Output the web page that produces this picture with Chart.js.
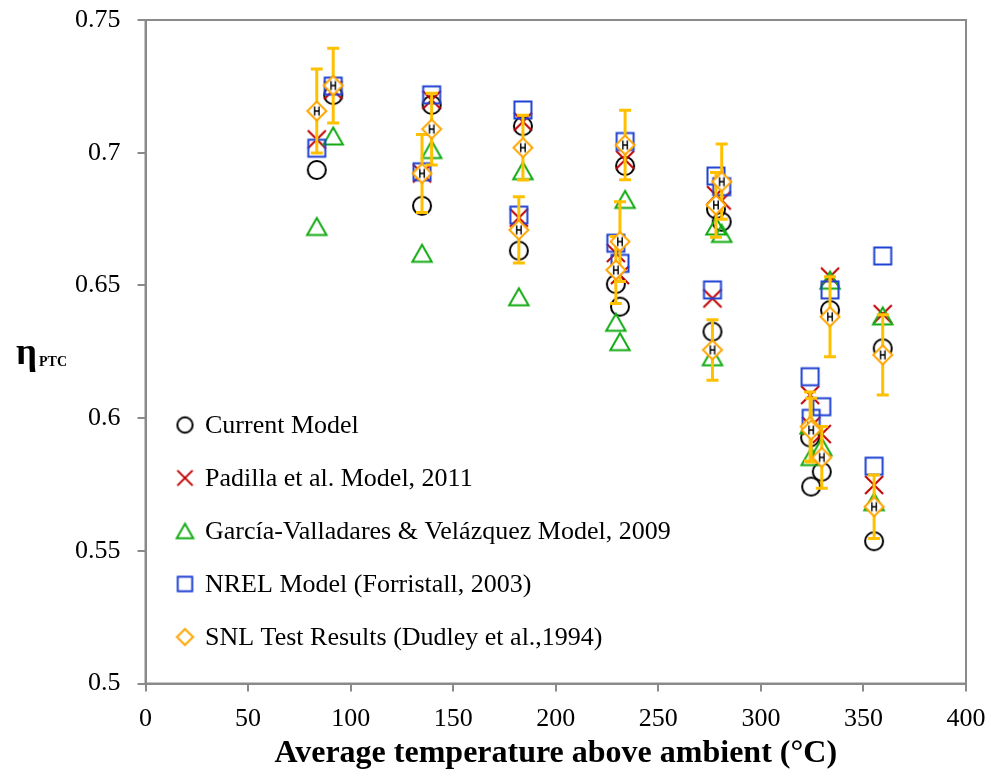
<!DOCTYPE html>
<html>
<head>
<meta charset="utf-8">
<script src="https://cdn.jsdelivr.net/npm/chart.js@4.4.0/dist/chart.umd.min.js"></script>
<style>
  html, body { margin: 0; padding: 0; background: #ffffff; }
  #wrap { width: 991px; height: 778px; position: relative; }
</style>
</head>
<body>
<div id="wrap"><canvas id="chart"></canvas></div>
<script>
// Average temperature above ambient (°C) of each test point
const tempAboveAmbient = [83.5, 91.5, 134.8, 139.5, 182, 184, 229.3, 231.3, 233.8, 276.4, 278.1, 280.9, 324, 324.5, 329.7, 333.7, 355.2, 359.4];

// Collector efficiency for each model
const currentModel  = [0.6935, 0.7217, 0.6800, 0.7180, 0.6631, 0.7100, 0.6505, 0.6420, 0.6950, 0.6326, 0.6787, 0.6740, 0.5927, 0.5742, 0.5798, 0.6407, 0.5536, 0.6263];
const padillaModel  = [0.7050, 0.7236, 0.6922, 0.7199, 0.6755, 0.7117, 0.6622, 0.6539, 0.6973, 0.6451, 0.6840, 0.6820, 0.6087, 0.5970, 0.5940, 0.6533, 0.5748, 0.6392];
const garciaModel   = [0.6722, 0.7063, 0.6621, 0.7012, 0.6457, 0.6932, 0.6361, 0.6288, 0.6824, 0.6231, 0.6724, 0.6696, 0.5974, 0.5855, 0.5892, 0.6520, 0.5685, 0.6385];
const nrelModel     = [0.7017, 0.7251, 0.6928, 0.7218, 0.6765, 0.7161, 0.6659, 0.6583, 0.7042, 0.6483, 0.6912, 0.6872, 0.6156, 0.5999, 0.6043, 0.6483, 0.5819, 0.6611];
const snlTest       = [0.7157, 0.7253, 0.6922, 0.7089, 0.6709, 0.7019, 0.6558, 0.6665, 0.7029, 0.6257, 0.6803, 0.6891, 0.5968, 0.5955, 0.5852, 0.6382, 0.5666, 0.6238];
const snlTestError  = [0.0158, 0.0141, 0.0147, 0.0135, 0.0125, 0.0122, 0.0126, 0.0150, 0.0131, 0.0114, 0.0122, 0.0142, 0.0130, 0.0120, 0.0116, 0.0151, 0.0120, 0.0151];

const seriesNames = [
  'Current Model',
  'Padilla et al. Model, 2011',
  'García-Valladares & Velázquez Model, 2009',
  'NREL Model (Forristall, 2003)',
  'SNL Test Results (Dudley et al.,1994)'
];

const xTickLabels = ['0', '50', '100', '150', '200', '250', '300', '350', '400'];
const yTickLabels = ['0.5', '0.55', '0.6', '0.65', '0.7', '0.75'];
const xAxisTitle = 'Average temperature above ambient (°C)';
const yAxisSymbol = 'η';
const yAxisSubscript = 'PTC';

const SERIF = '"Liberation Serif", "Times New Roman", serif';
const AXIS_GREY = '#8a8a8a';
const ERROR_COLOR = '#FFC000';

// Hollow marker sprites, drawn once and reused as point styles
function markerCanvas(kind, color, scale, withBar) {
  const size = Math.ceil(26 * scale);
  const cv = document.createElement('canvas');
  cv.width = size; cv.height = size;
  const g = cv.getContext('2d');
  const c = size / 2;
  const r = 9 * scale;
  g.strokeStyle = color;
  g.lineWidth = 2;
  g.lineJoin = 'miter';
  g.beginPath();
  if (kind === 'circle') {
    g.arc(c, c, r, 0, Math.PI * 2);
  } else if (kind === 'cross') {
    g.moveTo(c - r, c - r); g.lineTo(c + r, c + r);
    g.moveTo(c + r, c - r); g.lineTo(c - r, c + r);
  } else if (kind === 'triangle') {
    g.moveTo(c, c - 8.5 * scale);
    g.lineTo(c + 9.7 * scale, c + 8.5 * scale);
    g.lineTo(c - 9.7 * scale, c + 8.5 * scale);
    g.closePath();
  } else if (kind === 'square') {
    g.rect(c - 8.5 * scale, c - 8.5 * scale, 17 * scale, 17 * scale);
  } else if (kind === 'diamond') {
    const d = 9.5 * scale;
    g.moveTo(c, c - d); g.lineTo(c + d, c); g.lineTo(c, c + d); g.lineTo(c - d, c);
    g.closePath();
    g.fillStyle = '#ffffff';
    g.fill();
  }
  g.stroke();
  if (withBar) {
    // small black marker bar in the centre of each measured point
    g.strokeStyle = '#000000';
    g.lineWidth = 1.4;
    g.beginPath();
    g.moveTo(c - 2.2, c - 4.5); g.lineTo(c - 2.2, c + 4.5);
    g.moveTo(c + 2.2, c - 4.5); g.lineTo(c + 2.2, c + 4.5);
    g.moveTo(c - 2.2, c); g.lineTo(c + 2.2, c);
    g.stroke();
  }
  return cv;
}

const styles = [
  { kind: 'circle',   color: '#000000' },
  { kind: 'cross',    color: '#C00000' },
  { kind: 'triangle', color: '#12AA12' },
  { kind: 'square',   color: '#1F42D2' },
  { kind: 'diamond',  color: '#FFA500' }
];
const seriesValues = [currentModel, padillaModel, garciaModel, nrelModel, snlTest];

const datasets = seriesValues.map((vals, i) => ({
  label: seriesNames[i],
  data: vals.map((v, k) => ({ x: tempAboveAmbient[k], y: v })),
  pointStyle: markerCanvas(styles[i].kind, styles[i].color, 1, i === 4),
  pointRadius: 10,
  pointHoverRadius: 10,
  showLine: false,
  borderColor: styles[i].color,
  backgroundColor: 'transparent',
  order: 5 - i,
  clip: false
}));

const legendMarkers = styles.map(s => markerCanvas(s.kind, s.color, 0.85, false));

// Error bars of the measured series, painted just before its markers
const errorBarPlugin = {
  id: 'errorBars',
  beforeDatasetDraw(chart, args) {
    if (args.index !== 4) return;
    const ctx = chart.ctx;
    const xs = chart.scales.x, ys = chart.scales.y;
    ctx.save();
    ctx.strokeStyle = ERROR_COLOR;
    ctx.lineWidth = 3;
    snlTest.forEach((v, k) => {
      const px = xs.getPixelForValue(tempAboveAmbient[k]);
      const top = ys.getPixelForValue(v + snlTestError[k]);
      const bot = ys.getPixelForValue(v - snlTestError[k]);
      ctx.beginPath();
      ctx.moveTo(px, top); ctx.lineTo(px, bot);
      ctx.moveTo(px - 6, top); ctx.lineTo(px + 6, top);
      ctx.moveTo(px - 6, bot); ctx.lineTo(px + 6, bot);
      ctx.stroke();
    });
    ctx.restore();
  }
};

// Plot frame, y-axis symbol and the in-plot legend
const decorPlugin = {
  id: 'decor',
  afterDatasetsDraw(chart) {
    const ctx = chart.ctx;
    const a = chart.chartArea;
    ctx.save();
    ctx.strokeStyle = AXIS_GREY;
    ctx.lineWidth = 2;
    ctx.strokeRect(a.left, a.top, a.right - a.left, a.bottom - a.top);

    ctx.fillStyle = '#000000';
    ctx.textBaseline = 'alphabetic';
    ctx.textAlign = 'left';
    ctx.font = 'bold 37px ' + SERIF;
    ctx.fillText(yAxisSymbol, 16, 364);
    const w = ctx.measureText(yAxisSymbol).width;
    ctx.font = 'bold 14px ' + SERIF;
    ctx.fillText(yAxisSubscript, 16 + w + 2, 366);

    ctx.font = '26px ' + SERIF;
    ctx.textBaseline = 'middle';
    seriesNames.forEach((name, i) => {
      const y = 425 + i * 53;
      const m = legendMarkers[i];
      ctx.drawImage(m, 185 - m.width / 2, y - m.height / 2);
      ctx.fillText(name, 205, y + 1);
    });
    ctx.restore();
  }
};

new Chart(document.getElementById('chart'), {
  type: 'scatter',
  data: { datasets },
  options: {
    responsive: true,
    maintainAspectRatio: false,
    animation: false,
    events: [],
    layout: { padding: { left: 0, right: 25, top: 20, bottom: 0 } },
    plugins: {
      legend: { display: false },
      tooltip: { enabled: false },
      title: { display: false }
    },
    scales: {
      x: {
        type: 'linear',
        min: 0, max: 400,
        afterFit(scale) {
          scale.height = 94.5;
          scale.paddingLeft = 0; scale.paddingRight = 0;
        },
        ticks: {
          stepSize: 50,
          color: '#000000',
          font: { family: SERIF, size: 26 },
          padding: 12,
          maxRotation: 0,
          callback: (value, index) => xTickLabels[index]
        },
        grid: { drawOnChartArea: false, drawTicks: true, tickLength: 8, color: AXIS_GREY, lineWidth: 2 },
        border: { display: true, color: AXIS_GREY, width: 2 },
        title: {
          display: true,
          text: xAxisTitle,
          color: '#000000',
          font: { family: SERIF, size: 32, weight: 'bold' },
          padding: { top: 0, bottom: 5 }
        }
      },
      y: {
        type: 'linear',
        min: 0.5, max: 0.75,
        afterFit(scale) {
          scale.width = 145.5;
          scale.paddingTop = 0; scale.paddingBottom = 0;
        },
        ticks: {
          stepSize: 0.05,
          color: '#000000',
          font: { family: SERIF, size: 26 },
          padding: 17,
          callback: (value, index) => yTickLabels[index]
        },
        grid: { drawOnChartArea: false, drawTicks: true, tickLength: 8, color: AXIS_GREY, lineWidth: 2 },
        border: { display: true, color: AXIS_GREY, width: 2 }
      }
    }
  },
  plugins: [errorBarPlugin, decorPlugin]
});
</script>
</body>
</html>
